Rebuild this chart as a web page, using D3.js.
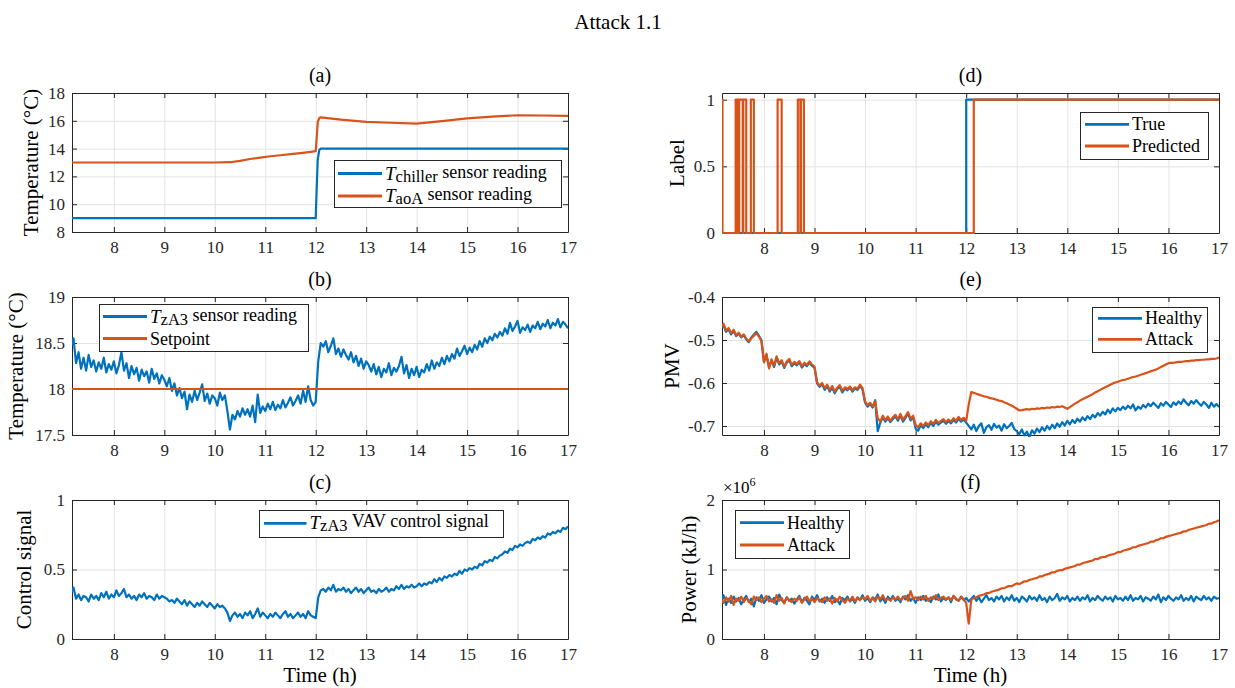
<!DOCTYPE html>
<meta charset="utf-8">
<style>
body { margin: 0; background: #fff; }
svg { display: block; }
svg text { font-family: "Liberation Serif", "DejaVu Serif", serif !important; }
.grid line { stroke: #e3e3e3; stroke-width: 1; }
.axis { color: #262626; }
.axis text { font-size: 17px; fill: #262626; }
.sub { font-size: 20px; fill: #000; }
.ylab, .xlab { font-size: 21px; fill: #000; }
.leg { font-size: 18px; fill: #000; }
.title { font-size: 21px; fill: #000; }
</style>
<svg id="chart"></svg>
<script src="https://cdn.jsdelivr.net/npm/d3@7"></script>
<script>

var W = 1235, H = 688
var blue = '#0072BD', orange = '#D95319'

// logged series are sampled every 0.05 h from 7.15 h
var tStart = 7.15, tStep = 0.05
var xDomain = [7.17, 17]
var xTicks = [8, 9, 10, 11, 12, 13, 14, 15, 16, 17]

// (a) chiller and AHU outlet temperature readings
var aTime    = [7.15, 7.5, 8, 8.5, 9, 9.5, 10, 10.3, 10.5, 10.7, 10.9, 11.1, 11.3, 11.5, 11.7, 11.9, 12.0, 12.02, 12.04, 12.07, 12.1, 12.5, 13, 13.5, 14, 14.5, 15, 15.5, 16, 16.5, 17]
var aChiller = [9, 9, 9, 9, 9, 9, 9, 9, 9, 9, 9, 9, 9, 9, 9, 9, 9, 11.2, 13.2, 13.9, 14, 14, 14, 14, 14, 14, 14, 14, 14, 14, 14]
var aAoA     = [13, 13, 13, 13, 13, 13, 13, 13.02, 13.12, 13.25, 13.35, 13.45, 13.52, 13.6, 13.68, 13.76, 13.82, 14.8, 15.9, 16.2, 16.25, 16.08, 15.92, 15.86, 15.8, 15.98, 16.17, 16.3, 16.4, 16.38, 16.35]

// (b) zone temperature reading and setpoint
var bZoneTemp = [
  18.46, 18.55, 18.28, 18.40, 18.22, 18.34, 18.20, 18.37, 18.24, 18.31,
  18.19, 18.29, 18.22, 18.34, 18.18, 18.27, 18.21, 18.30, 18.17, 18.26,
  18.40, 18.20, 18.28, 18.12, 18.25, 18.16, 18.23, 18.09, 18.21, 18.14,
  18.19, 18.07, 18.22, 18.11, 18.17, 18.06, 18.15, 18.10, 18.03, 18.12,
  17.98, 18.06, 17.93, 18.01, 17.90, 17.97, 17.78, 17.94, 17.86, 17.98,
  17.88, 17.96, 18.05, 17.87, 17.95, 17.84, 17.93, 17.90, 17.82, 17.96,
  17.88, 17.93, 17.76, 17.56, 17.72, 17.67, 17.76, 17.70, 17.79, 17.72,
  17.78, 17.70, 17.82, 17.64, 17.94, 17.74, 17.81, 17.76, 17.84, 17.78,
  17.86, 17.77, 17.83, 17.79, 17.88, 17.80, 17.85, 17.91, 17.82, 17.87,
  17.93, 17.84, 17.98, 17.86, 18.03, 17.88, 17.82, 17.86, 18.30, 18.50,
  18.46, 18.52, 18.40, 18.47, 18.55, 18.38, 18.44, 18.35, 18.43, 18.37,
  18.32, 18.40, 18.29, 18.36, 18.25, 18.33, 18.22, 18.30, 18.26, 18.19,
  18.27, 18.16, 18.24, 18.13, 18.22, 18.18, 18.28, 18.15, 18.23, 18.19,
  18.25, 18.35, 18.17, 18.26, 18.12, 18.22, 18.15, 18.24, 18.13, 18.21,
  18.18, 18.27, 18.20, 18.31, 18.22, 18.29, 18.25, 18.34, 18.27, 18.36,
  18.30, 18.38, 18.33, 18.44, 18.36, 18.41, 18.47, 18.38, 18.45, 18.40,
  18.48, 18.43, 18.52, 18.46, 18.55, 18.50, 18.57, 18.53, 18.60, 18.56,
  18.62, 18.58, 18.66, 18.60, 18.72, 18.63, 18.68, 18.74, 18.61, 18.67,
  18.64, 18.70, 18.62, 18.69, 18.66, 18.73, 18.65, 18.71, 18.68, 18.75,
  18.66, 18.72, 18.69, 18.76, 18.67, 18.73, 18.70, 18.66
]
var bSetTime = [7.15, 17]
var bSetpoint = [18, 18]

// (c) VAV control signal
var cControl = [
  0.33, 0.37, 0.29, 0.32, 0.28, 0.31, 0.30, 0.27, 0.32, 0.29,
  0.31, 0.28, 0.33, 0.30, 0.34, 0.29, 0.32, 0.30, 0.35, 0.31,
  0.33, 0.36, 0.30, 0.32, 0.29, 0.31, 0.28, 0.32, 0.30, 0.33,
  0.29, 0.31, 0.30, 0.28, 0.32, 0.29, 0.31, 0.30, 0.29, 0.27,
  0.28, 0.26, 0.29, 0.27, 0.25, 0.28, 0.24, 0.27, 0.25, 0.23,
  0.26, 0.24, 0.27, 0.25, 0.23, 0.26, 0.24, 0.22, 0.25, 0.23,
  0.24, 0.22, 0.19, 0.13, 0.17, 0.19, 0.16, 0.18, 0.15, 0.19,
  0.17, 0.20, 0.15, 0.18, 0.22, 0.16, 0.19, 0.17, 0.15, 0.18,
  0.16, 0.19, 0.17, 0.15, 0.18, 0.20, 0.16, 0.18, 0.15, 0.17,
  0.19, 0.16, 0.18, 0.15, 0.20, 0.17, 0.16, 0.15, 0.30, 0.35,
  0.36, 0.34, 0.37, 0.35, 0.39, 0.34, 0.36, 0.35, 0.37, 0.34,
  0.36, 0.33, 0.35, 0.37, 0.34, 0.36, 0.33, 0.35, 0.37, 0.34,
  0.35, 0.33, 0.36, 0.34, 0.35, 0.37, 0.34, 0.36, 0.35, 0.38,
  0.36, 0.39, 0.36, 0.38, 0.37, 0.39, 0.37, 0.38, 0.40, 0.38,
  0.40, 0.39, 0.41, 0.40, 0.43, 0.41, 0.44, 0.42, 0.45, 0.44,
  0.46, 0.45, 0.47, 0.46, 0.49, 0.47, 0.50, 0.49, 0.51, 0.50,
  0.52, 0.51, 0.54, 0.53, 0.56, 0.55, 0.57, 0.56, 0.59, 0.58,
  0.60, 0.61, 0.63, 0.62, 0.65, 0.64, 0.67, 0.66, 0.68, 0.67,
  0.69, 0.70, 0.69, 0.72, 0.71, 0.73, 0.72, 0.74, 0.73, 0.76,
  0.75, 0.77, 0.76, 0.78, 0.77, 0.80, 0.79, 0.81
]

// (d) true and predicted attack labels (step changes)
var dTrueTime = [7.15, 12.0, 17]
var dTrueVal  = [0, 1, 1]
var dPredTime = [7.15, 7.18, 7.44, 7.46, 7.47, 7.50, 7.51, 7.58, 7.59, 7.65, 7.74, 7.80, 8.27, 8.35, 8.67, 8.72, 8.73, 8.79, 12.15, 17]
var dPredVal  = [1, 0, 1, 0, 1, 0, 1, 0, 1, 0, 1, 0, 1, 0, 1, 0, 1, 0, 1, 1]

// (e) PMV
var ePmvHealthy = [
  -0.472, -0.466, -0.481, -0.475, -0.487, -0.479, -0.491, -0.485, -0.494, -0.489,
  -0.499, -0.505, -0.494, -0.487, -0.481, -0.490, -0.500, -0.550, -0.536, -0.563,
  -0.548, -0.563, -0.541, -0.557, -0.550, -0.565, -0.553, -0.547, -0.561, -0.554,
  -0.559, -0.552, -0.564, -0.556, -0.561, -0.553, -0.560, -0.565, -0.601, -0.609,
  -0.603, -0.616, -0.607, -0.620, -0.611, -0.624, -0.614, -0.609, -0.622, -0.613,
  -0.617, -0.611, -0.620, -0.613, -0.616, -0.607, -0.615, -0.646, -0.655, -0.649,
  -0.657, -0.640, -0.712, -0.693, -0.680, -0.690, -0.682, -0.691, -0.684, -0.678,
  -0.688, -0.675, -0.690, -0.681, -0.671, -0.687, -0.680, -0.706, -0.711, -0.698,
  -0.705, -0.696, -0.703, -0.693, -0.700, -0.690, -0.697, -0.692, -0.688, -0.695,
  -0.689, -0.694, -0.686, -0.692, -0.683, -0.690, -0.685, -0.692, -0.700, -0.708,
  -0.697, -0.712, -0.700, -0.694, -0.716, -0.703, -0.698, -0.709, -0.695, -0.704,
  -0.699, -0.711, -0.696, -0.705, -0.700, -0.693, -0.707, -0.712, -0.719, -0.708,
  -0.722, -0.713, -0.726, -0.710, -0.718, -0.706, -0.714, -0.703, -0.711, -0.700,
  -0.708, -0.697, -0.705, -0.694, -0.702, -0.691, -0.699, -0.688, -0.696, -0.686,
  -0.693, -0.683, -0.690, -0.680, -0.687, -0.677, -0.684, -0.674, -0.680, -0.670,
  -0.676, -0.667, -0.673, -0.662, -0.670, -0.659, -0.666, -0.658, -0.663, -0.655,
  -0.661, -0.653, -0.659, -0.650, -0.664, -0.655, -0.660, -0.651, -0.657, -0.648,
  -0.654, -0.646, -0.652, -0.658, -0.647, -0.653, -0.644, -0.650, -0.656, -0.645,
  -0.651, -0.643, -0.649, -0.638, -0.646, -0.652, -0.642, -0.648, -0.640, -0.647,
  -0.653, -0.644, -0.650, -0.658, -0.646, -0.655, -0.649, -0.656
]
var ePmvAttack = [
  -0.468, -0.462, -0.478, -0.472, -0.484, -0.476, -0.489, -0.483, -0.492, -0.487,
  -0.497, -0.503, -0.496, -0.490, -0.484, -0.492, -0.503, -0.552, -0.532, -0.566,
  -0.545, -0.560, -0.538, -0.554, -0.547, -0.562, -0.550, -0.544, -0.558, -0.551,
  -0.556, -0.549, -0.561, -0.553, -0.558, -0.550, -0.557, -0.562, -0.598, -0.606,
  -0.600, -0.612, -0.604, -0.616, -0.607, -0.620, -0.611, -0.605, -0.618, -0.610,
  -0.614, -0.608, -0.617, -0.610, -0.613, -0.604, -0.612, -0.643, -0.652, -0.646,
  -0.654, -0.643, -0.682, -0.690, -0.676, -0.686, -0.678, -0.688, -0.680, -0.674,
  -0.684, -0.672, -0.686, -0.677, -0.668, -0.683, -0.676, -0.698, -0.703, -0.694,
  -0.700, -0.692, -0.698, -0.689, -0.695, -0.686, -0.693, -0.688, -0.684, -0.691,
  -0.685, -0.690, -0.682, -0.688, -0.679, -0.686, -0.681, -0.688, -0.650, -0.621,
  -0.623, -0.625, -0.627, -0.629, -0.631, -0.632, -0.634, -0.636, -0.637, -0.639,
  -0.641, -0.642, -0.645, -0.647, -0.650, -0.653, -0.656, -0.660, -0.664, -0.663,
  -0.662, -0.661, -0.662, -0.660, -0.661, -0.659, -0.660, -0.658, -0.659, -0.657,
  -0.658, -0.656, -0.657, -0.655, -0.656, -0.654, -0.657, -0.660, -0.656, -0.652,
  -0.648, -0.645, -0.641, -0.638, -0.635, -0.632, -0.629, -0.626, -0.622, -0.619,
  -0.616, -0.613, -0.610, -0.607, -0.604, -0.601, -0.599, -0.597, -0.595, -0.593,
  -0.592, -0.590, -0.588, -0.586, -0.585, -0.583, -0.581, -0.579, -0.577, -0.575,
  -0.573, -0.571, -0.569, -0.566, -0.563, -0.560, -0.557, -0.554, -0.553, -0.553,
  -0.552, -0.551, -0.551, -0.550, -0.549, -0.549, -0.548, -0.548, -0.547, -0.547,
  -0.546, -0.546, -0.545, -0.545, -0.544, -0.544, -0.543, -0.541
]

// (f) power, in units of 10^6 kJ/h
var fPowerHealthy = [
  0.55, 0.63, 0.49, 0.58, 0.52, 0.61, 0.54, 0.59, 0.50, 0.57,
  0.62, 0.53, 0.58, 0.47, 0.60, 0.55, 0.63, 0.52, 0.57, 0.61,
  0.54, 0.59, 0.50, 0.64, 0.56, 0.52, 0.60, 0.55, 0.58, 0.51,
  0.57, 0.62, 0.53, 0.59, 0.55, 0.50, 0.61, 0.56, 0.63, 0.54,
  0.58, 0.52, 0.60, 0.55, 0.62, 0.53, 0.57, 0.50, 0.59, 0.56,
  0.61, 0.54, 0.58, 0.52, 0.60, 0.56, 0.63, 0.55, 0.59, 0.53,
  0.60, 0.57, 0.64, 0.54, 0.59, 0.52, 0.61, 0.56, 0.62, 0.55,
  0.58, 0.53, 0.61, 0.57, 0.63, 0.55, 0.59, 0.52, 0.60, 0.56,
  0.62, 0.55, 0.58, 0.53, 0.61, 0.57, 0.64, 0.54, 0.59, 0.56,
  0.60, 0.53, 0.62, 0.57, 0.55, 0.61, 0.56, 0.59, 0.54, 0.58,
  0.62, 0.55, 0.60, 0.53, 0.58, 0.63, 0.56, 0.59, 0.54, 0.61,
  0.57, 0.62, 0.54, 0.60, 0.56, 0.63, 0.55, 0.59, 0.53, 0.61,
  0.58, 0.54, 0.62, 0.57, 0.60, 0.55, 0.63, 0.56, 0.59, 0.53,
  0.61, 0.56, 0.59, 0.65, 0.55, 0.60, 0.57, 0.62, 0.54, 0.59,
  0.56, 0.61, 0.55, 0.60, 0.57, 0.63, 0.54, 0.59, 0.56, 0.62,
  0.58, 0.55, 0.61, 0.57, 0.60, 0.54, 0.62, 0.57, 0.59, 0.55,
  0.61, 0.56, 0.63, 0.55, 0.59, 0.57, 0.62, 0.54, 0.60, 0.58,
  0.55, 0.61, 0.57, 0.64, 0.53, 0.60, 0.56, 0.62, 0.58, 0.55,
  0.60, 0.57, 0.63, 0.55, 0.59, 0.56, 0.62, 0.54, 0.61, 0.58,
  0.56, 0.62, 0.57, 0.60, 0.55, 0.61, 0.58, 0.59
]
var fPowerAttack = [
  0.57, 0.52, 0.60, 0.54, 0.62, 0.49, 0.58, 0.55, 0.61, 0.53,
  0.59, 0.55, 0.50, 0.61, 0.56, 0.60, 0.53, 0.58, 0.62, 0.54,
  0.57, 0.52, 0.63, 0.55, 0.59, 0.51, 0.60, 0.56, 0.53, 0.58,
  0.55, 0.60, 0.52, 0.57, 0.61, 0.54, 0.58, 0.53, 0.59, 0.56,
  0.53, 0.60, 0.55, 0.58, 0.51, 0.59, 0.54, 0.61, 0.56, 0.52,
  0.58, 0.55, 0.61, 0.54, 0.59, 0.56, 0.60, 0.57, 0.62, 0.55,
  0.59, 0.54, 0.61, 0.57, 0.63, 0.56, 0.58, 0.55, 0.60, 0.57,
  0.61, 0.56, 0.59, 0.62, 0.55, 0.69, 0.58, 0.60, 0.56, 0.61,
  0.57, 0.62, 0.55, 0.60, 0.58, 0.63, 0.56, 0.59, 0.61, 0.57,
  0.60, 0.56, 0.62, 0.58, 0.55, 0.61, 0.57, 0.52, 0.22, 0.56,
  0.59, 0.60, 0.62, 0.63, 0.64, 0.66, 0.66, 0.68, 0.69, 0.70,
  0.71, 0.73, 0.73, 0.75, 0.76, 0.76, 0.78, 0.80, 0.79, 0.81,
  0.83, 0.83, 0.85, 0.86, 0.87, 0.88, 0.90, 0.90, 0.92, 0.93,
  0.94, 0.96, 0.96, 0.98, 0.99, 0.99, 1.01, 1.02, 1.03, 1.04,
  1.05, 1.07, 1.07, 1.09, 1.10, 1.11, 1.12, 1.13, 1.15, 1.15,
  1.17, 1.18, 1.18, 1.20, 1.21, 1.22, 1.23, 1.25, 1.25, 1.27,
  1.28, 1.29, 1.30, 1.32, 1.32, 1.34, 1.35, 1.36, 1.37, 1.38,
  1.40, 1.40, 1.42, 1.43, 1.45, 1.45, 1.47, 1.48, 1.49, 1.50,
  1.51, 1.52, 1.53, 1.55, 1.55, 1.57, 1.58, 1.59, 1.60, 1.61,
  1.62, 1.63, 1.64, 1.66, 1.66, 1.68, 1.69, 1.71
]

var svg = d3.select('#chart').attr('width', W).attr('height', H)

svg.append('text').attr('class', 'title')
    .attr('x', 618).attr('y', 29)
    .attr('text-anchor', 'middle')
    .text('Attack 1.1')

var fmt = function (d) { return String(d) }

function panel(o) {
    var x = d3.scaleLinear().domain(xDomain).range([o.left, o.right])
    var y = d3.scaleLinear().domain(o.yDomain).range([o.bottom, o.top])
    var g = svg.append('g')

    var grid = g.append('g').attr('class', 'grid')
    grid.selectAll('line.gx').data(xTicks).join('line').attr('class', 'gx')
        .attr('x1', d => x(d) + 0.5).attr('x2', d => x(d) + 0.5)
        .attr('y1', o.top).attr('y2', o.bottom)
    grid.selectAll('line.gy').data(o.yTicks).join('line').attr('class', 'gy')
        .attr('x1', o.left).attr('x2', o.right)
        .attr('y1', d => y(d) + 0.5).attr('y2', d => y(d) + 0.5)

    g.append('g').attr('class', 'axis').attr('transform', 'translate(0,' + o.bottom + ')')
        .call(d3.axisBottom(x).tickValues(xTicks).tickSizeInner(-5).tickSizeOuter(0).tickPadding(9).tickFormat(fmt))
    g.append('g').attr('class', 'axis').attr('transform', 'translate(0,' + o.top + ')')
        .call(d3.axisTop(x).tickValues(xTicks).tickSizeInner(-5).tickSizeOuter(0).tickFormat(''))
    g.append('g').attr('class', 'axis').attr('transform', 'translate(' + o.left + ',0)')
        .call(d3.axisLeft(y).tickValues(o.yTicks).tickSizeInner(-5).tickSizeOuter(0).tickPadding(7).tickFormat(fmt))
    g.append('g').attr('class', 'axis').attr('transform', 'translate(' + o.right + ',0)')
        .call(d3.axisRight(y).tickValues(o.yTicks).tickSizeInner(-5).tickSizeOuter(0).tickFormat(''))
    g.selectAll('.axis').attr('font-family', null).attr('font-size', null)

    var clipId = 'clip-' + o.name
    svg.append('clipPath').attr('id', clipId).append('rect')
        .attr('x', o.left).attr('y', o.top - 2)
        .attr('width', o.right - o.left).attr('height', o.bottom - o.top + 4)

    var lines = g.append('g').attr('clip-path', 'url(#' + clipId + ')')
    o.series.forEach(function (s) {
        var line = d3.line()
            .x((d, i) => x(s.time ? s.time[i] : tStart + i * tStep))
            .y(d => y(d))
        if (s.step) line.curve(d3.curveStepAfter)
        lines.append('path').datum(s.values)
            .attr('fill', 'none')
            .attr('stroke', s.color)
            .attr('stroke-width', 2.2)
            .attr('stroke-linejoin', 'round')
            .attr('d', line)
    })

    g.append('text').attr('class', 'sub')
        .attr('x', (o.left + o.right) / 2).attr('y', o.top - 11)
        .attr('text-anchor', 'middle')
        .text(o.title)

    g.append('text').attr('class', 'ylab')
        .attr('transform', 'translate(' + o.ylabX + ',' + (o.top + o.bottom) / 2 + ') rotate(-90)')
        .attr('text-anchor', 'middle')
        .text(o.ylabel)

    if (o.xlabel) {
        g.append('text').attr('class', 'xlab')
            .attr('x', (o.left + o.right) / 2).attr('y', 682)
            .attr('text-anchor', 'middle')
            .text(o.xlabel)
    }

    if (o.exponent) {
        var ex = g.append('text').attr('class', 'leg')
            .attr('x', o.left + 1).attr('y', o.top - 7)
            .style('font-size', '17px')
        ex.append('tspan').text('×10')
        ex.append('tspan').attr('dy', -7).style('font-size', '12px').text(o.exponent)
    }

    var L = o.legend
    g.append('rect')
        .attr('x', L.x + 0.5).attr('y', L.y + 0.5).attr('width', L.w).attr('height', L.h)
        .attr('fill', '#fff').attr('stroke', '#262626').attr('stroke-width', 1)
    L.items.forEach(function (it, k) {
        var ly = L.rows[k]
        g.append('line')
            .attr('x1', L.lx0).attr('x2', L.lx1).attr('y1', ly).attr('y2', ly)
            .attr('stroke', o.series[it.s].color).attr('stroke-width', 2.8)
        var t = g.append('text').attr('class', 'leg').attr('x', L.lx1 + 3)
        if (it.sym) {
            t.attr('y', ly + 6)
            t.append('tspan').style('font-style', 'italic').style('font-size', '19px').text('T')
            t.append('tspan').attr('dy', 2).style('font-size', '16.5px').text(it.sym)
            t.append('tspan').attr('dy', -4).text(' ' + it.text)
        } else {
            t.attr('y', ly + 6).text(it.text)
        }
    })
}

panel({
    name: 'a', title: '(a)', left: 72, right: 568, top: 93, bottom: 232,
    yDomain: [8, 18], yTicks: [8, 10, 12, 14, 16, 18],
    ylabel: 'Temperature (°C)', ylabX: 38,
    series: [
        {time: aTime, values: aChiller, color: blue},
        {time: aTime, values: aAoA, color: orange}
    ],
    legend: {x: 334, y: 160, w: 227, h: 47, lx0: 338, lx1: 382, rows: [173.5, 196],
        items: [{s: 0, sym: 'chiller', text: 'sensor reading'}, {s: 1, sym: 'aoA', text: 'sensor reading'}]}
})

panel({
    name: 'b', title: '(b)', left: 72, right: 568, top: 297, bottom: 435,
    yDomain: [17.5, 19], yTicks: [17.5, 18, 18.5, 19],
    ylabel: 'Temperature (°C)', ylabX: 23,
    series: [
        {values: bZoneTemp, color: blue},
        {time: bSetTime, values: bSetpoint, color: orange}
    ],
    legend: {x: 99, y: 304, w: 209, h: 47, lx0: 103, lx1: 147, rows: [316.5, 338.5],
        items: [{s: 0, sym: 'zA3', text: 'sensor reading'}, {s: 1, text: 'Setpoint'}]}
})

panel({
    name: 'c', title: '(c)', left: 72, right: 568, top: 500, bottom: 639,
    yDomain: [0, 1], yTicks: [0, 0.5, 1],
    ylabel: 'Control signal', ylabX: 31, xlabel: 'Time (h)',
    series: [{values: cControl, color: blue}],
    legend: {x: 259, y: 510, w: 244, h: 27, lx0: 264, lx1: 306.5, rows: [523.3],
        items: [{s: 0, sym: 'zA3', text: 'VAV control signal'}]}
})

panel({
    name: 'd', title: '(d)', left: 722, right: 1219, top: 93, bottom: 233,
    yDomain: [0, 1.05], yTicks: [0, 0.5, 1],
    ylabel: 'Label', ylabX: 684,
    series: [
        {time: dTrueTime, values: dTrueVal, color: blue, step: true},
        {time: dPredTime, values: dPredVal, color: orange, step: true}
    ],
    legend: {x: 1080, y: 112, w: 128, h: 47, lx0: 1085, lx1: 1129, rows: [124.3, 146],
        items: [{s: 0, text: 'True'}, {s: 1, text: 'Predicted'}]}
})

panel({
    name: 'e', title: '(e)', left: 722, right: 1219, top: 297, bottom: 435,
    yDomain: [-0.721, -0.4], yTicks: [-0.7, -0.6, -0.5, -0.4],
    ylabel: 'PMV', ylabX: 679,
    series: [
        {values: ePmvHealthy, color: blue},
        {values: ePmvAttack, color: orange}
    ],
    legend: {x: 1092, y: 307, w: 115, h: 45, lx0: 1098, lx1: 1142, rows: [318.3, 339.3],
        items: [{s: 0, text: 'Healthy'}, {s: 1, text: 'Attack'}]}
})

panel({
    name: 'f', title: '(f)', left: 722, right: 1219, top: 500, bottom: 639,
    yDomain: [0, 2], yTicks: [0, 1, 2],
    ylabel: 'Power (kJ/h)', ylabX: 696, xlabel: 'Time (h)', exponent: '6',
    series: [
        {values: fPowerHealthy, color: blue},
        {values: fPowerAttack, color: orange}
    ],
    legend: {x: 735, y: 510, w: 114, h: 48, lx0: 740, lx1: 784, rows: [522.7, 545],
        items: [{s: 0, text: 'Healthy'}, {s: 1, text: 'Attack'}]}
})

</script>
